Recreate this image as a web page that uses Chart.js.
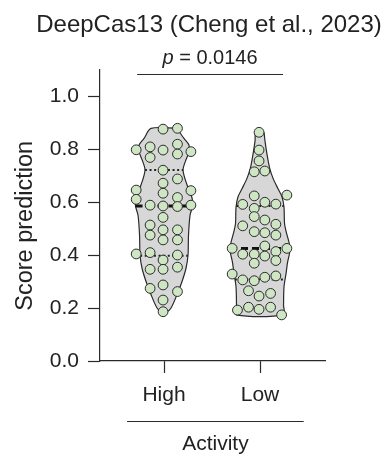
<!DOCTYPE html>
<html>
<head>
<meta charset="utf-8">
<script src="https://cdn.jsdelivr.net/npm/chart.js@4.4.0/dist/chart.umd.min.js"></script>
<style>
  html, body { margin: 0; padding: 0; background: #fff; }
  #wrap { width: 385px; height: 458px; }
</style>
</head>
<body>
<div id="wrap"><canvas id="chart" width="385" height="458"></canvas></div>
<script>
// Categories and tick labels
const categories = ['High', 'Low'];
const yTicks = [0, 0.2, 0.4, 0.6, 0.8, 1.0];

// Individual scores (value) and their swarm offset (category units)
const highValues = [0.875, 0.878, 0.797, 0.808, 0.796, 0.818, 0.790, 0.768, 0.781, 0.720,
                    0.687, 0.671, 0.645, 0.643, 0.633, 0.617, 0.610, 0.588, 0.585, 0.583,
                    0.588, 0.542, 0.513, 0.495, 0.495, 0.475, 0.457, 0.457, 0.404, 0.409,
                    0.381, 0.400, 0.346, 0.346, 0.354, 0.274, 0.287, 0.262, 0.230, 0.186];
const highOffsets = [-0.01, 0.14, -0.29, -0.145, -0.01, 0.14, 0.28, -0.145, 0.14, -0.01,
                     0.14, -0.01, -0.29, 0.28, -0.01, 0.14, -0.29, -0.145, -0.01, 0.14,
                     0.28, -0.01, -0.145, -0.01, 0.14, -0.145, -0.01, 0.14, -0.29, -0.145,
                     -0.01, 0.14, -0.145, -0.01, 0.14, -0.145, -0.01, 0.14, -0.01, -0.01];

const lowValues = [0.863, 0.796, 0.755, 0.714, 0.717, 0.626, 0.623, 0.591, 0.599, 0.592,
                   0.576, 0.545, 0.532, 0.510, 0.516, 0.488, 0.484, 0.475, 0.425, 0.434,
                   0.425, 0.403, 0.403, 0.413, 0.396, 0.369, 0.379, 0.328, 0.306, 0.303,
                   0.316, 0.321, 0.265, 0.245, 0.255, 0.192, 0.203, 0.195, 0.203, 0.174];
const lowOffsets = [-0.01, -0.01, -0.01, -0.06, 0.05, 0.28, -0.06, -0.18, 0.05, 0.165,
                    -0.06, -0.06, 0.05, -0.18, 0.165, -0.06, 0.05, 0.165, -0.29, 0.05,
                    0.28, -0.18, -0.06, 0.165, 0.05, -0.06, 0.165, -0.29, -0.18, -0.06,
                    0.05, 0.165, -0.12, -0.01, 0.11, -0.235, -0.12, -0.01, 0.11, 0.225];

// Violin outlines: value and half width (category units), top to bottom
const highShapeValues = [0.878, 0.84, 0.815, 0.79, 0.755, 0.72, 0.664, 0.615, 0.585, 0.55,
                         0.475, 0.40, 0.35, 0.30, 0.25, 0.20, 0.186];
const highShapeWidths = [0.135, 0.208, 0.26, 0.26, 0.224, 0.198, 0.24, 0.292, 0.297, 0.271,
                         0.255, 0.25, 0.229, 0.1875, 0.135, 0.073, 0.03];
const lowShapeValues = [0.863, 0.83, 0.78, 0.73, 0.69, 0.65, 0.62, 0.58, 0.52, 0.49,
                        0.425, 0.37, 0.33, 0.28, 0.21, 0.174];
const lowShapeWidths = [0.042, 0.052, 0.073, 0.099, 0.135, 0.1875, 0.229, 0.25, 0.255, 0.271,
                        0.3125, 0.286, 0.271, 0.25, 0.245, 0.245];

// Summary lines
const medians = [0.585, 0.425];
const lowerQuartiles = [0.397, 0.308];
const upperQuartiles = [0.721, 0.585];

const titleText = 'DeepCas13 (Cheng et al., 2023)';
const yTitle = 'Score prediction';
const pValue = '0.0146';

const FONT = '"Liberation Sans", Arial, Helvetica, sans-serif';
const TEXT = '#222222';
const LINE = '#2a2a2a';

function violinPoints(center, vals, widths) {
    const pts = [];
    for (let i = 0; i < vals.length; i++) pts.push({ x: center + widths[i], y: vals[i] });
    for (let i = vals.length - 1; i >= 0; i--) pts.push({ x: center - widths[i], y: vals[i] });
    pts.push(pts[0]);
    return pts;
}

function widthAt(v, vals, widths) {
    for (let i = 0; i < vals.length - 1; i++) {
        if (v <= vals[i] && v >= vals[i + 1]) {
            const t = (vals[i] - v) / (vals[i] - vals[i + 1]);
            return widths[i] + t * (widths[i + 1] - widths[i]);
        }
    }
    return 0;
}

function hLine(center, v, vals, widths) {
    const w = widthAt(v, vals, widths);
    return [{ x: center - w, y: v }, { x: center + w, y: v }];
}

const shapes = [
    { vals: highShapeValues, widths: highShapeWidths },
    { vals: lowShapeValues, widths: lowShapeWidths }
];

const datasets = [];

// points on top
datasets.push({
    label: 'points',
    order: 0,
    data: highValues.map((v, i) => ({ x: 1 + highOffsets[i], y: v }))
        .concat(lowValues.map((v, i) => ({ x: 2 + lowOffsets[i], y: v }))),
    pointRadius: 4.9,
    pointBackgroundColor: '#cfe6c5',
    pointBorderColor: '#2b2b2b',
    pointBorderWidth: 1,
    showLine: false
});

shapes.forEach((s, i) => {
    const c = i + 1;
    datasets.push({
        label: 'median ' + categories[i],
        order: 1,
        data: hLine(c, medians[i], s.vals, s.widths),
        showLine: true,
        pointRadius: 0,
        borderColor: '#111',
        borderWidth: 3,
        borderDash: [7, 4]
    });
    [lowerQuartiles[i], upperQuartiles[i]].forEach(q => {
        datasets.push({
            label: 'quartile ' + categories[i],
            order: 1,
            data: hLine(c, q, s.vals, s.widths),
            showLine: true,
            pointRadius: 0,
            borderColor: '#222',
            borderWidth: 2,
            borderDash: [2, 2.6]
        });
    });
    datasets.push({
        label: 'violin ' + categories[i],
        order: 2,
        data: violinPoints(c, s.vals, s.widths),
        showLine: true,
        tension: 0.3,
        pointRadius: 0,
        borderColor: LINE,
        borderWidth: 1.2,
        backgroundColor: '#d7d7d7',
        fill: 'shape'
    });
});

const annotations = {
    id: 'annotations',
    afterDraw(chart) {
        const { ctx, chartArea } = chart;
        const x = chart.scales.x, y = chart.scales.y;
        const mid = (x.getPixelForValue(1) + x.getPixelForValue(2)) / 2;
        ctx.save();
        ctx.fillStyle = TEXT;
        ctx.strokeStyle = LINE;
        ctx.lineWidth = 1.2;
        ctx.textAlign = 'left';
        ctx.textBaseline = 'alphabetic';

        // title
        ctx.font = '24px ' + FONT;
        const tw = ctx.measureText(titleText).width;
        ctx.fillText(titleText, mid - 3 - tw / 2, 32);

        // p-value bracket
        const py = Math.round(y.getPixelForValue(1.083)) + 0.5;
        ctx.beginPath();
        ctx.moveTo(x.getPixelForValue(0.72), py);
        ctx.lineTo(x.getPixelForValue(2.24), py);
        ctx.stroke();
        ctx.font = 'italic 20px ' + FONT;
        const pw = ctx.measureText('p').width;
        ctx.font = '20px ' + FONT;
        const rest = ' = ' + pValue;
        const rw = ctx.measureText(rest).width;
        const px = mid - 2 - (pw + rw) / 2;
        ctx.font = 'italic 20px ' + FONT;
        ctx.fillText('p', px, py - 11);
        ctx.font = '20px ' + FONT;
        ctx.fillText(rest, px + pw, py - 11);

        // x axis group bracket and title
        const by = Math.round(chartArea.bottom + 60) + 0.5;
        const bl = x.getPixelForValue(0.615), br = x.getPixelForValue(2.455);
        ctx.beginPath();
        ctx.moveTo(bl, by);
        ctx.lineTo(br, by);
        ctx.stroke();
        ctx.font = '21px ' + FONT;
        ctx.textAlign = 'center';
        ctx.fillText('Activity', (bl + br) / 2, chartArea.bottom + 89);

        // y axis title, centred a little below the axis middle like the original
        ctx.translate(32, y.getPixelForValue(0.51));
        ctx.rotate(-Math.PI / 2);
        ctx.font = '23.5px ' + FONT;
        ctx.fillText(yTitle, 0, 0);
        ctx.restore();
    }
};

const axisGrid = {
    drawOnChartArea: false,
    drawTicks: true,
    tickLength: 12,
    tickColor: LINE,
    tickWidth: 1.2
};

new Chart(document.getElementById('chart'), {
    type: 'scatter',
    data: { datasets },
    options: {
        responsive: false,
        animation: false,
        layout: { padding: { left: 0, right: 60, top: 69.5, bottom: 0 } },
        plugins: {
            legend: { display: false },
            tooltip: { enabled: false },
            title: { display: false }
        },
        scales: {
            x: {
                type: 'linear',
                min: 0.333,
                max: 2.677,
                afterBuildTicks: s => { s.ticks = categories.map((c, i) => ({ value: i + 1 })); },
                afterFit: s => { s.height = 97; },
                ticks: {
                    callback: v => categories[Math.round(v) - 1],
                    font: { family: FONT, size: 21 },
                    color: TEXT,
                    padding: 10,
                    maxRotation: 0
                },
                grid: axisGrid,
                border: { color: LINE, width: 1.2 }
            },
            y: {
                min: 0,
                max: 1.1,
                afterBuildTicks: s => { s.ticks = yTicks.map(v => ({ value: v })); },
                afterFit: s => { s.width = 100; },
                ticks: {
                    callback: v => v.toFixed(1),
                    font: { family: FONT, size: 21 },
                    color: TEXT,
                    padding: 9
                },
                grid: axisGrid,
                border: { color: LINE, width: 1.2 }
            }
        }
    },
    plugins: [annotations]
});
</script>
</body>
</html>
